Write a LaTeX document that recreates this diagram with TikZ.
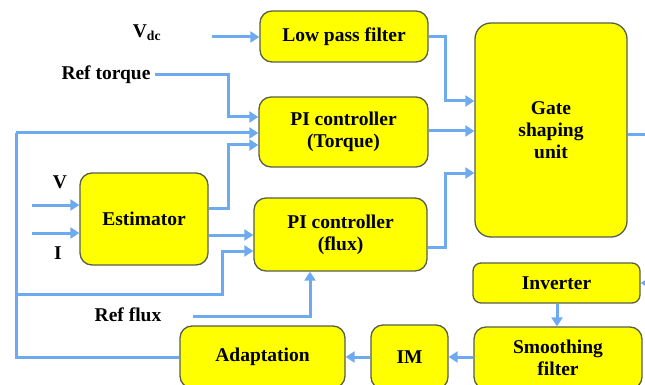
\documentclass[tikz,border=0pt]{standalone}
\usepackage{fontspec}
\setmainfont{Liberation Serif}
\usetikzlibrary{arrows.meta}
\definecolor{boxyellow}{RGB}{255,255,0}
\definecolor{boxedge}{RGB}{85,95,75}
\definecolor{wireblue}{RGB}{110,170,240}
\begin{document}
\begin{tikzpicture}[x=1pt,y=-1pt,
		block/.style={draw=boxedge,fill=boxyellow,line width=1.3pt,rounded corners=12pt,
			align=center,inner sep=0pt,font=\bfseries\fontsize{19.5}{22}\selectfont},
		lbl/.style={inner sep=0pt,font=\bfseries\fontsize{19.5}{22}\selectfont},
		wire/.style={draw=wireblue,line width=3pt},
		arr/.style={wire,-{Triangle[length=9pt,width=11pt]}}]
			\useasboundingbox (0,0) rectangle (645,385);
			\clip (0,0) rectangle (645,385);
			
			% blocks
			\node[block,minimum width=168pt,minimum height=51pt] (lpf) at (344,36.5) {Low pass filter};
			\node[block,minimum width=169pt,minimum height=70pt] (pit) at (343.5,132) {PI controller\\(Torque)};
			\node[block,minimum width=152pt,minimum height=214pt,rounded corners=16pt] (gsu) at (551,130) {Gate\\shaping\\unit};
			\node[block,minimum width=128pt,minimum height=92pt] (est) at (144,219) {Estimator};
			\node[block,minimum width=173pt,minimum height=73pt] (pif) at (340.5,234.5) {PI controller\\(flux)};
			\node[block,minimum width=167pt,minimum height=40pt,rounded corners=8pt] (inv) at (556.5,283) {Inverter};
			\node[block,minimum width=168pt,minimum height=62pt] (smf) at (558,358) {Smoothing\\filter};
			\node[block,minimum width=77pt,minimum height=64pt] (im) at (409.5,357) {IM};
			\node[block,minimum width=165pt,minimum height=62pt] (adp) at (262.5,357) {Adaptation};
			
			% input labels
			\node[lbl] (vdc) at (147,33) {V\textsubscript{dc}};
			\node[lbl] (rtq) at (106,75) {Ref torque};
			\node[lbl] (vin) at (60,182) {V};
			\node[lbl] (iin) at (58,253) {I};
			\node[lbl] (rfl) at (128,315) {Ref flux};
			
			% free ends and bends
			\coordinate (vdcs) at (212,37);
			\coordinate (rtqs) at (155,75);
			\coordinate (vins) at (32,205);
			\coordinate (iins) at (32,233);
			\coordinate (rfls) at (193,316);
			\coordinate (fbx) at (16,133);
			\coordinate (gout) at (660,135);
			\coordinate (invs) at (660,283);
			
			% connectors into the controllers
			\draw[arr] (vdcs) -- (vdcs -| lpf.west);
			\draw[arr] (rtqs) -| (228,117) -- (pit.west |- 0,117);
			\draw[arr] (fbx) -- (pit.west |- fbx);
			\draw[arr] (est.east |- 0,208) -| (228,145) -- (pit.west |- 0,145);
			\draw[arr] (est.east |- 0,235) -- (pif.west |- 0,235);
			\draw[arr] (16,294) -| (222,251) -- (pif.west |- 0,251);
			\draw[arr] (rfls) -| (pif.south -| 310,0);
			\draw[arr] (vins) -- (est.west |- vins);
			\draw[arr] (iins) -- (est.west |- iins);
			
			% connectors into the gate shaping unit
			\draw[arr] (lpf.east |- 0,37) -| (445,101) -- (gsu.west |- 0,101);
			\draw[arr] (pit.east |- 0,131) -- (gsu.west |- 0,131);
			\draw[arr] (pif.east |- 0,247) -| (445,173) -- (gsu.west |- 0,173);
			\draw[arr] (gsu.east |- gout) -- (gout);
			
			% power side and feedback
			\draw[arr] (invs) -- (inv.east);
			\draw[arr] (inv.south -| 557,0) -- (smf.north -| 557,0);
			\draw[arr] (smf.west |- 0,357) -- (im.east |- 0,357);
			\draw[arr] (im.west |- 0,357) -- (adp.east |- 0,357);
			\draw[wire] (adp.west |- 0,357) -| (fbx);
		\end{tikzpicture}
\end{document}
